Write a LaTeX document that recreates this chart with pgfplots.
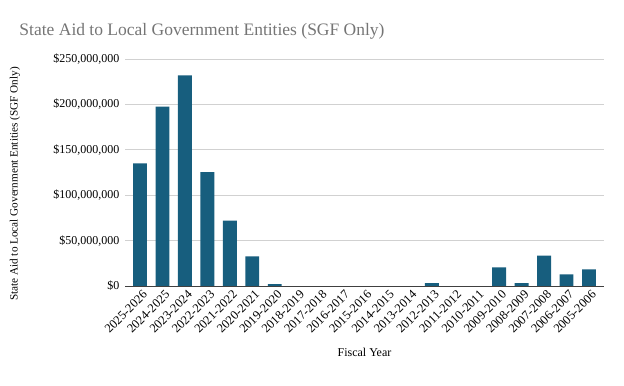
\documentclass[border=0pt]{standalone}
\usepackage{pgfplots}
\pgfplotsset{compat=1.18}
\usepackage{fontspec}
\setmainfont{Liberation Serif}
\definecolor{barblue}{RGB}{23,94,126}
\definecolor{titlegray}{RGB}{117,117,117}
\begin{document}
\begin{tikzpicture}
\useasboundingbox (0,0) rectangle (624bp,386bp);
\begin{axis}[
  at={(125bp,100bp)}, anchor=south west,
  scale only axis, width=479bp, height=227bp,
  xmin=-0.67, xmax=20.67, ymin=0, ymax=250000000,
  axis x line*=bottom, axis y line*=left,
  axis line style={-},
  x axis line style={draw=black!75, line width=1pt},
  y axis line style={draw=none},
  tick style={draw=none},
  ymajorgrids, grid style={draw=black!18, line width=0.9pt},
  scaled y ticks=false,
  ytick={0,50000000,100000000,150000000,200000000,250000000},
  yticklabels={{\$0},{\$50,000,000},{\$100,000,000},{\$150,000,000},{\$200,000,000},{\$250,000,000}},
  xtick={0,...,20},
  xticklabels={2025-2026,2024-2025,2023-2024,2022-2023,2021-2022,2020-2021,2019-2020,2018-2019,2017-2018,2016-2017,2015-2016,2014-2015,2013-2014,2012-2013,2011-2012,2010-2011,2009-2010,2008-2009,2007-2008,2006-2007,2005-2006},
  xticklabel style={xshift=2bp, yshift=-2bp, rotate=45, anchor=north east, font=\fontsize{12.5bp}{14bp}\selectfont, inner sep=1bp},
  yticklabel style={font=\fontsize{12bp}{14bp}\selectfont, inner sep=1bp, xshift=-4.5bp},
  /pgf/number format/assume math mode=true,
  xlabel={Fiscal Year},
  xlabel style={at={(rel axis cs:0.5,-0.2907)}, anchor=center, font=\fontsize{12bp}{14bp}\selectfont},
  ylabel={State Aid to Local Government Entities (SGF Only)},
  ylabel style={at={(rel axis cs:-0.2296,0.449)}, anchor=center, font=\fontsize{11.2bp}{13bp}\selectfont},
  every axis title shift=0pt,
  title={State Aid to Local Government Entities (SGF Only)},
  title style={at={(rel axis cs:-0.2276,1.1057)}, anchor=base west, text=titlegray, font=\fontsize{17.5bp}{20bp}\selectfont},
]
\addplot[ybar, bar width=0.62, fill=barblue, draw=none] coordinates {
  (0,135000000) (1,197500000) (2,232000000) (3,125500000) (4,72000000)
  (5,32700000) (6,2000000) (13,3300000) (16,20600000) (17,3300000)
  (18,33400000) (19,12900000) (20,18400000)
};
\end{axis}
\end{tikzpicture}
\end{document}
